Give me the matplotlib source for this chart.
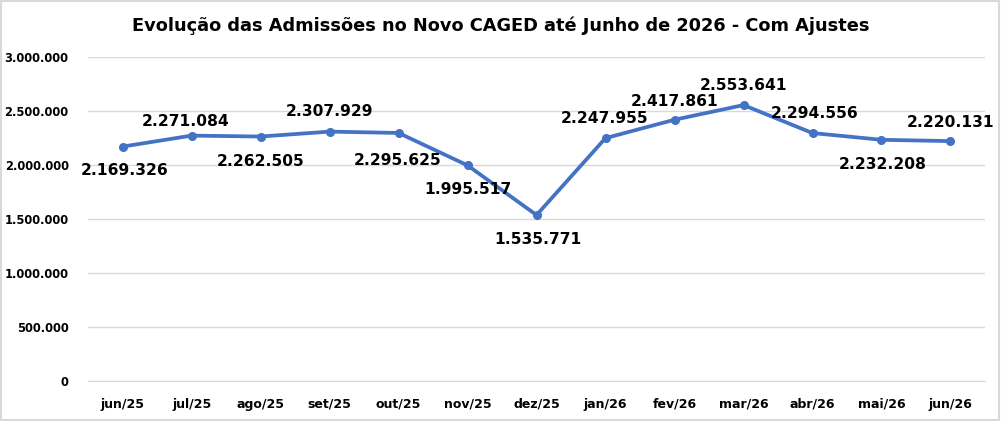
import matplotlib
matplotlib.use("Agg")
import matplotlib.pyplot as plt
from matplotlib.patches import Rectangle
from matplotlib.ticker import FuncFormatter

months = ["jun/25", "jul/25", "ago/25", "set/25", "out/25", "nov/25", "dez/25",
          "jan/26", "fev/26", "mar/26", "abr/26", "mai/26", "jun/26"]
admissions = [2169326, 2271084, 2262505, 2307929, 2295625, 1995517, 1535771,
              2247955, 2417861, 2553641, 2294556, 2232208, 2220131]
# label offsets in pixels (dx, dy) of the label's visual centre relative to each point
label_offsets = [(2, -22), (-6, 16), (0, -23), (0, 22), (-1, -26), (0, -23), (1, -23),
                 (-1, 21), (0, 20), (0, 21), (2, 21), (1, -23), (0, 20)]


def br_fmt(v, _pos):
    return f"{int(v):,}".replace(",", ".")


fig = plt.figure(figsize=(10.01, 4.21), dpi=100)
ax = fig.add_axes([0.088, 0.095, 0.896, 0.77])

x = list(range(len(months)))
ax.plot(x, admissions, color="#4472C4", lw=2.7, marker="o", ms=5.5, zorder=3)

for i, v in enumerate(admissions):
    dx, dy = label_offsets[i]
    # baseline sits about 6 px below the visual centre of the digits
    ax.annotate(br_fmt(v, None), (i, v), xytext=(dx, dy - 6), textcoords="offset pixels",
                ha="center", va="baseline", fontsize=11.2, fontweight="bold", color="black")

ax.set_xlim(-0.5, len(months) - 0.5)
ax.set_ylim(0, 3000000)
ax.set_yticks(range(0, 3000001, 500000))
ax.yaxis.set_major_formatter(FuncFormatter(br_fmt))
ax.set_xticks(x)
ax.set_xticklabels(months)
ax.grid(axis="y", color="#d9d9d9", lw=1)
ax.set_axisbelow(True)
for side in ["left", "right", "top"]:
    ax.spines[side].set_visible(False)
ax.spines["bottom"].set_color("#d9d9d9")
ax.tick_params(length=0)
ax.tick_params(axis="x", labelsize=9, pad=12)
ax.tick_params(axis="y", labelsize=8.3, pad=14)
for lbl in ax.get_xticklabels() + ax.get_yticklabels():
    lbl.set_fontweight("bold")

fig.text(0.5, 0.94, "Evolução das Admissões no Novo CAGED até Junho de 2026 - Com Ajustes",
         ha="center", va="center", fontsize=12.75, fontweight="bold")
fig.patches.append(Rectangle((0.001, 0.002), 0.997, 0.995, transform=fig.transFigure,
                             fill=False, edgecolor="#d9d9d9", lw=1.5))

fig.savefig("out.png", dpi=100)
